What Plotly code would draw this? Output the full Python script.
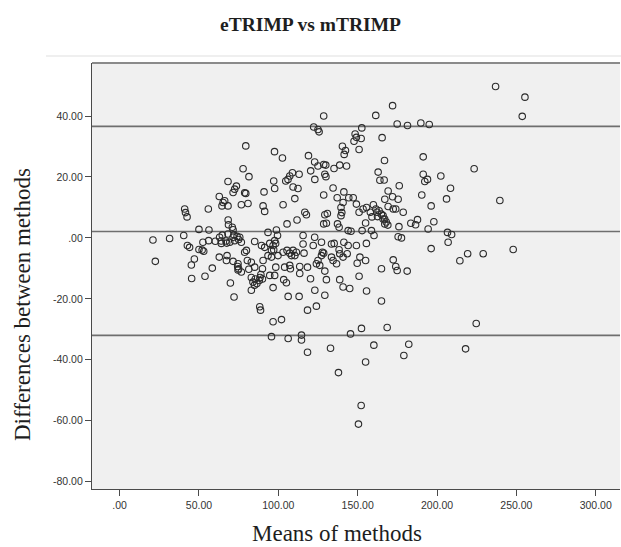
import plotly.graph_objects as go

# Bland-Altman data: mean of methods (x) and difference between methods (y)
pts = [
 # left region
 (21.0,-0.7),(22.5,-7.7),(31.5,-0.2),(40.4,0.8),(41.0,9.5),(41.5,8.3),(42.5,6.9),(42.7,-2.5),(44.1,-3.1),
 (47.1,-6.9),(45.2,-8.9),(45.4,-13.3),(50.0,2.8),(50.0,-3.8),(52.0,-4.0),(53.0,-4.4),(52.5,-1.4),(53.8,-12.6),
 (55.9,9.5),(56.3,2.6),(56.1,-0.9),(58.4,-9.9),
 # 60-80
 (60.3,-1.1),(62.8,13.6),(64.0,-1.0),(62.8,-6.3),(64.7,0.9),(65.2,11.6),(64.5,10.5),(68.3,18.5),(68.3,10.5),
 (68.4,5.9),(68.6,4.3),(67.7,-5.8),(67.3,-7.4),(67.0,-1.0),(67.5,-1.7),(69.8,-14.8),(71.0,3.5),(71.5,2.7),
 (71.5,14.9),(72.5,16.0),(71.5,-7.7),(72.1,-19.4),(72.0,1.0),(73.6,17.0),(74.6,-10.5),(74.4,-9.4),(74.0,0.5),
 (75.0,-0.5),(74.6,-8.5),(75.0,-10.1),(76.7,-11.2),(78.8,-4.7),(66.2,12.2),(76.7,10.9),(79.5,30.2),(77.8,22.7),
 (81.5,20.1),(78.8,14.8),(79.5,14.6),(80.9,11.3),(63.0,0.2),(64.1,-1.8),(68.3,1.3),(69.4,-1.4),(71.5,0.2),
 (72.5,-0.9),(75.7,0.2),(76.7,-1.4),(79.9,-4.1),
 # 80-100 lower
 (80.5,-7.4),(81.4,-10.3),(83.0,-13.0),(84.0,-14.5),(85.5,-13.5),(86.5,-15.0),(88.0,-14.0),(85.0,-15.5),
 (83.0,-17.2),(88.3,-22.6),(88.8,-23.7),(83.0,-8.0),(85.1,-9.6),(90.4,-7.4),(90.0,-10.1),(89.0,-12.0),
 (90.0,-13.5),(88.5,-13.0),(85.1,-1.2),(89.4,-2.5),(91.4,-3.1),(95.7,-4.1),(97.1,-3.9),(105.5,-4.1),
 (107.2,-5.0),(109.3,-4.1),
 # 90-180 lower band
 (93.5,-5.8),(94.6,-12.3),(95.7,-6.3),(96.7,-16.3),(97.7,-12.3),(98.4,-9.6),(99.8,-5.8),(103.0,-4.7),
 (103.4,-13.7),(104.0,-9.6),(105.1,-14.7),(106.2,-19.2),(107.2,-9.0),(107.6,-10.1),(108.3,-5.8),(110.4,-5.8),
 (111.4,-4.7),(113.1,-19.2),(113.5,-11.7),(113.5,-9.4),(116.2,-5.0),(118.4,-9.6),(118.4,-23.7),(120.3,-13.4),
 (123.0,-17.2),(124.0,-22.4),(124.0,-8.5),(125.0,-7.4),(126.1,-9.0),(127.2,-5.8),(127.8,-4.7),(129.3,-10.9),
 (129.3,-18.8),(130.3,-13.7),(133.5,-6.3),(134.5,-7.4),(136.7,-8.5),(138.7,-13.7),(140.8,-16.1),(140.8,-6.3),
 (145.0,-16.6),(149.7,-8.3),(150.9,-12.6),(155.0,-7.4),(155.6,-17.4),(151.4,-6.3),
 # far lower
 (96.7,-27.5),(102.0,-26.8),(95.7,-32.4),(106.2,-33.0),(114.6,-31.9),(114.6,-33.5),(118.4,-37.5),
 (132.9,-36.2),(137.9,-44.2),(145.5,-31.5),(152.4,-29.7),(152.2,-55.0),(150.5,-61.1),(155.0,-40.7),
 (160.2,-35.2),(165.0,-20.7),(168.6,-29.4),(165.0,-10.1),(172.4,-7.2),(174.0,-9.4),(174.9,-10.7),
 (181.2,-10.9),(182.2,-34.9),(179.1,-38.6),(214.4,-7.5),(219.3,-5.2),(229.1,-5.2),(248.0,-3.8),
 (224.7,-28.1),(218.0,-36.4),(196.3,-3.5),
 # middle band 90-180
 (97.1,18.7),(97.7,16.2),(109.3,16.7),(112.4,16.2),(91.0,15.1),(110.4,12.9),(90.4,10.5),(91.4,8.7),
 (103.0,10.9),(116.7,8.4),(117.7,7.6),(111.8,5.9),(105.5,4.6),(128.6,4.6),(130.3,4.8),(129.3,7.6),
 (130.9,8.0),(128.6,14.1),(134.5,16.4),(141.3,15.1),(144.4,13.2),(147.2,13.2),(137.1,13.2),(140.8,11.6),
 (139.5,10.0),(140.0,8.3),(139.5,7.3),(137.3,4.6),(138.3,3.5),(144.0,2.4),(145.8,2.2),(152.8,2.4),
 (155.0,4.9),(158.7,2.4),(160.3,0.8),(149.2,11.1),(153.4,9.5),(150.9,8.4),(155.6,10.0),
 (159.9,10.9),(161.5,9.5),(162.2,8.4),(163.5,8.9),(164.9,7.8),(166.0,7.3),(167.0,6.2),(168.0,5.2),
 (169.0,4.2),(162.5,7.0),(158.0,8.4),(159.0,6.9),
 (98.8,2.6),(99.5,0.8),(97.7,-0.9),(98.3,-1.8),(96.7,-2.5),(94.6,-1.8),(93.5,1.8),(115.6,0.8),(122.9,0.2),
 (115.6,-2.0),(122.0,-2.5),(127.2,-1.4),(128.6,-5.0),(133.5,-2.0),(135.2,-1.8),(138.3,-3.9),(138.7,-5.2),
 (141.3,-1.4),(144.0,-2.5),(143.4,-5.2),(149.2,-2.5),(155.5,-1.8),
 # upper 60-170
 (97.6,28.3),(102.6,26.2),(119.0,27.0),(122.9,24.9),(125.0,23.6),(128.6,24.1),(129.9,23.9),(108.9,21.4),
 (107.2,20.3),(106.1,19.2),(104.7,18.7),(113.1,20.9),(120.4,22.0),(123.0,19.2),(129.3,20.9),(130.0,20.1),
 (135.1,22.8),(138.7,23.9),(143.0,23.6),(122.3,36.4),(125.0,35.6),(125.7,34.8),(128.6,40.0),(140.4,30.1),
 (142.3,28.7),(141.5,27.4),(150.9,29.0),(148.4,34.1),(149.2,33.0),(147.7,31.7),(152.2,32.6),(152.6,36.1),
 (161.4,40.2),(162.9,21.6),(164.0,18.9),(166.7,19.0),
 # upper right
 (172.0,43.4),(174.9,37.4),(181.4,36.9),(189.8,37.7),(195.1,37.2),(165.4,32.9),(166.9,25.4),(191.3,26.6),
 (223.4,22.7),(191.3,20.9),(194.0,19.2),(192.3,18.5),(202.4,20.3),(176.2,17.1),(208.5,16.3),(169.2,15.4),
 (172.0,13.5),(167.1,12.7),(175.5,12.7),(190.4,14.1),(206.0,12.8),(239.6,12.3),(196.3,10.5),(169.2,10.3),
 (172.4,9.5),(174.0,9.5),(178.7,8.4),(166.0,6.2),(167.1,4.6),(183.5,4.8),(186.5,4.3),(187.7,6.0),
 (198.0,5.3),(176.0,3.7),(194.4,2.9),(206.6,1.8),(209.2,1.1),(175.5,0.4),(177.6,0.0),(207.0,-1.4),
 (236.9,49.7),(255.4,46.2),(253.7,39.9),
]
means = [p[0] for p in pts]
diffs = [p[1] for p in pts]

mean_diff = 2.1
upper_loa = 36.6
lower_loa = -32.0

x_tickvals = [0, 50, 100, 150, 200, 250, 300]
x_ticktext = [".00", "50.00", "100.00", "150.00", "200.00", "250.00", "300.00"]
y_tickvals = [-80, -60, -40, -20, 0, 20, 40]
y_ticktext = ["-80.00", "-60.00", "-40.00", "-20.00", ".00", "20.00", "40.00"]

W, H = 621, 547
L, R, T, B = 92, 1, 63, 58
pw, ph = W - L - R, H - T - B

def px_x(p):  # page pixel -> paper x
    return (p - L) / pw

def px_y(p):  # page pixel (from top) -> paper y
    return (H - B - p) / ph

fig = go.Figure()
fig.add_trace(go.Scatter(
    x=means, y=diffs, mode="markers",
    marker=dict(symbol="circle-open", size=6.5, color="#2b2b2b", line=dict(width=1.1)),
    showlegend=False, hoverinfo="x+y"))

for v in (upper_loa, mean_diff, lower_loa):
    fig.add_shape(type="line", xref="paper", x0=0, x1=1, yref="y", y0=v, y1=v,
                  line=dict(color="#6e6e6e", width=1.6), layer="below")

# outer light frame line and top plot frame
fig.add_shape(type="line", xref="paper", yref="paper", x0=px_x(46), x1=px_x(621), y0=px_y(56), y1=px_y(56),
              line=dict(color="#e0e0e0", width=1.2))
fig.add_shape(type="line", xref="paper", yref="paper", x0=0, x1=1, y0=1, y1=1,
              line=dict(color="#8a8a8a", width=2))

fig.update_layout(
    width=W, height=H,
    margin=dict(l=L, r=R, t=T, b=B),
    paper_bgcolor="white", plot_bgcolor="#f0f0f0",
    title=dict(text="<b>eTRIMP vs mTRIMP</b>", x=0.5, xref="container", xanchor="center",
               y=1 - 24 / H, yref="container", yanchor="middle",
               font=dict(family="Liberation Serif", size=19.5, color="#1e1e1e")),
    xaxis=dict(range=[-17.4, 315.3], tickvals=x_tickvals, ticktext=x_ticktext,
               showgrid=False, zeroline=False, showline=True, linecolor="#4a4a4a", linewidth=1.3,
               ticks="outside", ticklen=6, tickwidth=1.3, tickcolor="#4a4a4a",
               tickfont=dict(family="Liberation Sans", size=10.5, color="#333")),
    yaxis=dict(range=[-82.4, 57.4], tickvals=y_tickvals, ticktext=y_ticktext,
               showgrid=False, zeroline=False, showline=True, linecolor="#4a4a4a", linewidth=1.3,
               ticks="outside", ticklen=6, tickwidth=1.3, tickcolor="#4a4a4a",
               tickfont=dict(family="Liberation Sans", size=10.5, color="#333")),
    annotations=[
        dict(text="Means of methods", xref="paper", yref="paper", x=px_x(337), y=px_y(533),
             xanchor="center", yanchor="middle", showarrow=False,
             font=dict(family="Liberation Serif", size=23, color="#1e1e1e")),
        dict(text="Differences between methods", xref="paper", yref="paper", x=px_x(22),
             y=px_y(305), xanchor="center", yanchor="middle", textangle=-90, showarrow=False,
             font=dict(family="Liberation Serif", size=23, color="#1e1e1e")),
    ],
)

fig.write_html("out.html", config={"displayModeBar": False},
               post_script="document.body.style.margin='0';document.body.style.overflow='hidden';")
